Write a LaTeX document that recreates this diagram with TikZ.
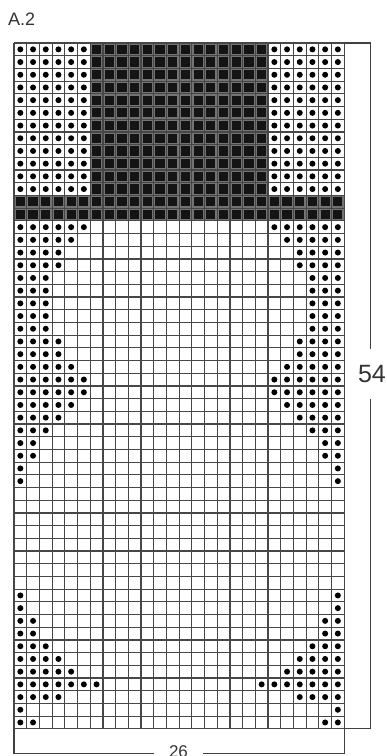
\documentclass[tikz,border=0pt]{standalone}
\usepackage{fontspec}
\setmainfont{Liberation Sans}
\usetikzlibrary{calc}
\tikzset{
  band/.style={fill=black!55},
  blk/.style={fill=black!92},
  dot/.style={fill=black},
  grd/.style={draw=black!72, line width=1.2pt},
  brk/.style={draw=black!75, line width=1.2pt},
  lbl/.style={text=black!80, inner sep=0pt},
}

\begin{document}
\begin{tikzpicture}[x=1pt,y=1pt]
\useasboundingbox (0,0) rectangle (387,-756);
\node[lbl,font=\fontsize{18}{20}\selectfont,anchor=base west] (ttl) at (8,-25) {A.2};
\begin{scope}[shift={(14,-43)},x=12.7pt,y=-12.7pt]
% black block
\fill[band] (6,0) rectangle (20,12);
\fill[band] (0,12) rectangle (26,14);
\foreach \r in {0,...,11}
  \foreach \c in {6,...,19}
    \fill[blk] (\c+0.14,\r+0.14) rectangle (\c+0.86,\r+0.86);
\foreach \r in {12,13}
  \foreach \c in {0,...,25}
    \fill[blk] (\c+0.14,\r+0.14) rectangle (\c+0.86,\r+0.86);
% dots, mirrored left and right
\foreach \r in {0,...,11}
  \foreach \k in {1,...,6} {
    \fill[dot] (\k-0.5,\r+0.5) circle (3pt);
    \fill[dot] (26.5-\k,\r+0.5) circle (3pt);
  }
\foreach \r/\n in {14/6,15/5,16/4,17/4,18/3,19/3,20/3,21/3,22/3,23/4,24/4,
  25/5,26/6,27/6,28/5,29/4,30/3,31/2,32/2,33/1,34/1,
  43/1,44/1,45/2,46/2,47/3,48/4,49/5,50/7,51/4,52/1,53/2}
  \foreach \k in {1,...,\n} {
    \fill[dot] (\k-0.5,\r+0.5) circle (3pt);
    \fill[dot] (26.5-\k,\r+0.5) circle (3pt);
  }
\foreach \c in {0,...,26}
  \draw[grd] (\c,0) -- (\c,54);
\foreach \r in {0,...,54}
  \draw[grd] (0,\r) -- (26,\r);
\coordinate (ne) at (26,0);
\coordinate (se) at (26,54);
\coordinate (sw) at (0,54);
\end{scope}
\node[lbl,font=\fontsize{25}{27}\selectfont,inner ysep=16pt] (cnt) at (372,-374) {54};
\node[lbl,font=\fontsize{17}{19}\selectfont,inner xsep=15pt,anchor=base] (wid) at (178.5,-757) {26};
\coordinate (rt) at ($(ne)+(26pt,0)$);
\coordinate (rb) at ($(se)+(26pt,0)$);
\coordinate (lb) at ($(sw)+(0,-25pt)$);
\coordinate (bb) at ($(se)+(0,-25pt)$);
\draw[brk] (ne) -- (rt) -- (rt |- cnt.north);
\draw[brk] (rt |- cnt.south) -- (rb) -- (se);
\draw[brk] (sw) -- (lb) -- (lb -| wid.west);
\draw[brk] (wid.east |- bb) -- (bb) -- (se);
\end{tikzpicture}
\end{document}
